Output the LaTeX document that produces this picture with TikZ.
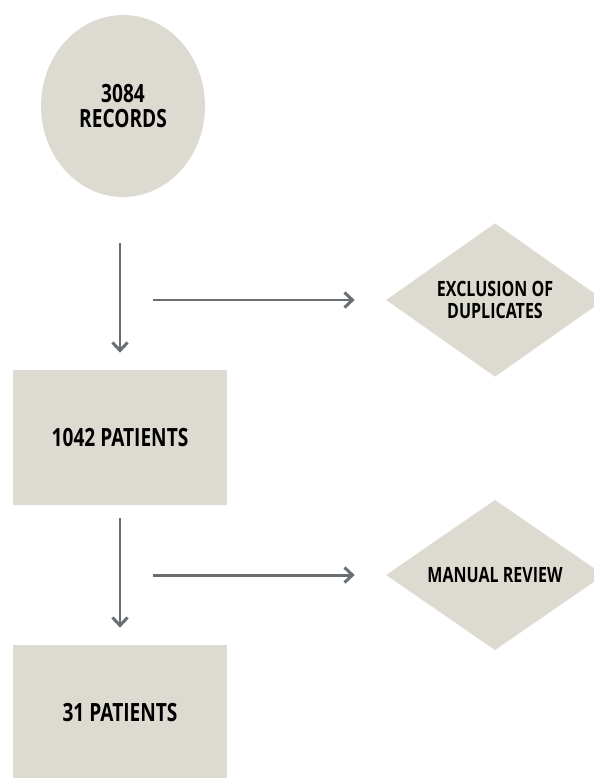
\documentclass[tikz,border=0pt]{standalone}
\usepackage{fontspec}
\setmainfont{Open Sans}[FakeStretch=0.76]
\usepackage{xcolor}
\usetikzlibrary{arrows.meta,shapes.geometric}
\definecolor{boxfill}{RGB}{221,219,209}
\definecolor{arrowgray}{RGB}{104,110,114}

\begin{document}
\begin{tikzpicture}[x=0.02cm,y=-0.02cm]
	\tikzstyle{every node}=[font=\fontsize{14.3}{13.7}\selectfont\bfseries, align=center, inner sep=0pt]
	\tikzstyle{box}=[rectangle, fill=boxfill, minimum width=4.28cm, minimum height=2.7cm]
	\tikzstyle{choice}=[diamond, fill=boxfill, minimum width=4.36cm, minimum height=3cm, font=\fontsize{12}{12.5}\selectfont\bfseries]
	\tikzstyle{flow}=[draw=arrowgray, line width=1.7pt, ->, >={Straight Barb[length=0.16cm, width=0.3cm]}]
		\useasboundingbox (0,0) rectangle (593,778);
		\node [ellipse, fill=boxfill, minimum width=3.28cm, minimum height=3.64cm] (records) at (123,106) {3084\\RECORDS};
		\node [box] (p1042) at (120,437.5) {1042 PATIENTS};
		\node [box] (p31) at (120,712.5) {31 PATIENTS};
		\node [choice] (dup) at (495,300) {EXCLUSION OF\\DUPLICATES};
		\node [choice] (review) at (495,575) {MANUAL REVIEW};
		\coordinate (split1) at (153,300);
		\coordinate (split2) at (153,575);
		\draw [flow, shorten <=0.92cm, shorten >=0.34cm] (p1042.north |- records.south) -- (p1042.north);
		\draw [flow, shorten >=0.62cm] (split1) -- (dup.west);
		\draw [flow, shorten <=0.26cm, shorten >=0.34cm] (p1042.south) -- (p31.north);
		\draw [flow, shorten >=0.62cm] (split2) -- (review.west);
	\end{tikzpicture}
\end{document}
